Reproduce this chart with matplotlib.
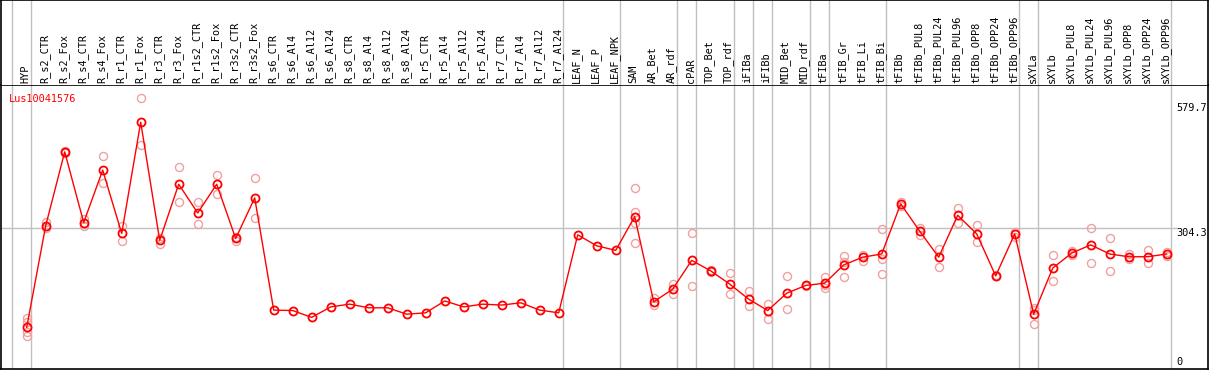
import numpy as np
import matplotlib
matplotlib.use("Agg")
import matplotlib.pyplot as plt
import matplotlib.transforms as mtransforms

gene = "Lus10041576"

samples = ["HYP", "R_s2_CTR", "R_s2_Fox", "R_s4_CTR", "R_s4_Fox", "R_r1_CTR", "R_r1_Fox",
           "R_r3_CTR", "R_r3_Fox", "R_r1s2_CTR", "R_r1s2_Fox", "R_r3s2_CTR", "R_r3s2_Fox",
           "R_s6_CTR", "R_s6_Al4", "R_s6_Al12", "R_s6_Al24", "R_s8_CTR", "R_s8_Al4",
           "R_s8_Al12", "R_s8_Al24", "R_r5_CTR", "R_r5_Al4", "R_r5_Al12", "R_r5_Al24",
           "R_r7_CTR", "R_r7_Al4", "R_r7_Al12", "R_r7_Al24", "LEAF_N", "LEAF_P", "LEAF_NPK",
           "SAM", "AR_Bet", "AR_rdf", "cPAR", "TOP_Bet", "TOP_rdf", "iFIBa", "iFIBb",
           "MID_Bet", "MID_rdf", "tFIBa", "tFIB_Gr", "tFIB_Li", "tFIB_Bi", "tFIBb",
           "tFIBb_PUL8", "tFIBb_PUL24", "tFIBb_PUL96", "tFIBb_OPP8", "tFIBb_OPP24",
           "tFIBb_OPP96", "sXYLa", "sXYLb", "sXYLb_PUL8", "sXYLb_PUL24", "sXYLb_PUL96",
           "sXYLb_OPP8", "sXYLb_OPP24", "sXYLb_OPP96"]

means = [87, 310, 472, 317, 432, 293, 537, 278, 401, 338, 401, 282, 371,
         125, 124, 109, 132, 138, 130, 130, 116, 119, 145, 132, 138, 136, 141, 125, 119,
         290, 266, 256, 330, 143, 171, 234, 211, 182, 149, 124, 162, 179,
         184, 224, 241, 248, 358, 298, 241, 333, 292, 200, 292,
         116, 217, 250, 268, 248, 242, 242, 248]

# replicate values per sample (empty = no separate replicates shown)
reps = [[107, 99, 76, 68], [319, 304], [474, 469], [324, 310], [462, 404], [310, 277],
        [589, 486], [284, 271], [438, 361], [361, 313], [421, 380], [286, 276], [414, 328],
        [], [], [], [], [], [], [], [], [], [], [], [], [], [], [], [],
        [], [], [],
        [392, 339, 315, 272], [151, 136], [182, 160], [293, 177], [213, 208], [206, 160],
        [167, 133], [138, 105], [200, 127], [181, 178],
        [198, 180, 174], [243, 231, 197], [246, 233], [303, 236, 204], [361, 354],
        [304, 290], [260, 220], [348, 317], [311, 274], [202, 199], [296, 285],
        [130, 125, 94], [246, 188], [255, 246], [304, 228], [282, 211], [247, 237],
        [257, 229], [253, 243]]

# last sample index of each group (gray separators)
group_ends = [-1, 0, 28, 31, 34, 35, 37, 38, 39, 41, 42, 45, 52, 53, 60]

axis_labels = [579.7, 304.3, 0]

W, H = 1209, 370
fig = plt.figure(figsize=(W / 100, H / 100), dpi=100)
mono = "DejaVu Sans Mono"

xlim = ((1 - 26.7) / 19, (1208 - 26.7) / 19)
ax = fig.add_axes([1 / W, 1 / H, 1207 / W, 284 / H])
hd = fig.add_axes([1 / W, 285 / H, 1207 / W, 85 / H])

x = np.arange(len(samples))

for a in (ax, hd):
    a.set_xlim(*xlim)
    a.set_xticks([])
    a.set_yticks([])
    for s in a.spines.values():
        s.set_color("black")
        s.set_linewidth(1.2)
    for g in group_ends:
        a.axvline(g + 0.21, color="#c0c0c0", lw=1.0, zorder=0)
hd.spines["bottom"].set_visible(False)
hd.set_ylim(0, 85)

ax.set_ylim(-4.2, 618.6)
ax.axhline(304.3, xmax=1176 / 1207, color="#c0c0c0", lw=1.0, zorder=0)

# replicate points
for i, r in enumerate(reps):
    if r:
        ax.plot([i] * len(r), r, "o", ms=5.8, mfc="none", mec="#f0a0a0", mew=1.0, zorder=2)

ax.plot(x, means, "-", color="red", lw=1.0, zorder=3)
ax.plot(x, means, "o", ms=5.8, mfc="none", mec="red", mew=1.3, zorder=4)

ax.text(8.3 / 1207, 0.968, gene, transform=ax.transAxes, color="red",
        fontsize=7.4, family=mono, va="top", ha="left")

trans = mtransforms.blended_transform_factory(ax.transAxes, ax.transData)
for v in axis_labels:
    ax.text(1175 / 1207, v, f"{v:g}", transform=trans, fontsize=7.4, family=mono,
            va="bottom" if v == 0 else "top", ha="left")

for i, name in enumerate(samples):
    hd.text(i - 0.06, 2, name, rotation=90, fontsize=7.4, family=mono,
            ha="center", va="bottom")

fig.savefig("out.png", dpi=100)
